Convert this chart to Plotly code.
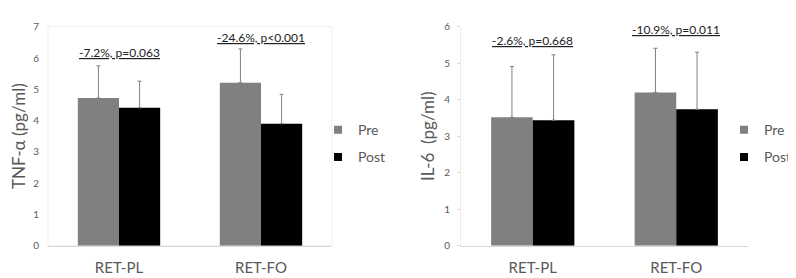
import plotly.graph_objects as go

categories = ["RET-PL", "RET-FO"]

tnf_pre = [4.72, 5.21]
tnf_pre_sd = [1.03, 1.08]
tnf_post = [4.41, 3.90]
tnf_post_sd = [0.85, 0.94]

il6_pre = [3.52, 4.20]
il6_pre_sd = [1.39, 1.21]
il6_post = [3.44, 3.74]
il6_post_sd = [1.79, 1.56]

tnf_labels = ["-7.2%, p=0.063", "-24.6%, p<0.001"]
tnf_label_y = [6.18, 6.65]
il6_labels = ["-2.6%, p=0.668", "-10.9%, p=0.011"]
il6_label_y = [5.62, 5.93]

PRE_C = "#808080"
POST_C = "#000000"
ERR_C = "#808080"
FONT = "Lato"
TXT = "#595959"

W, H = 796, 278


def err(vals):
    return dict(type="data", array=vals, arrayminus=[0] * len(vals), symmetric=False,
                color=ERR_C, thickness=1, width=2)


fig = go.Figure()
for xa, ya, pre, pre_sd, post, post_sd in [
    ("x", "y", tnf_pre, tnf_pre_sd, tnf_post, tnf_post_sd),
    ("x2", "y2", il6_pre, il6_pre_sd, il6_post, il6_post_sd),
]:
    fig.add_trace(go.Bar(x=categories, y=pre, name="Pre", marker_color=PRE_C, marker_line_width=0,
                         error_y=err(pre_sd), xaxis=xa, yaxis=ya, showlegend=False))
    fig.add_trace(go.Bar(x=categories, y=post, name="Post", marker_color=POST_C, marker_line_width=0,
                         error_y=err(post_sd), xaxis=xa, yaxis=ya, showlegend=False))

# legend entries
for lg, xa, ya in [("legend", "x", "y"), ("legend2", "x2", "y2")]:
    for nm, c in [("Pre", PRE_C), ("Post", POST_C)]:
        fig.add_trace(go.Scatter(x=[None], y=[None], mode="markers", name=nm,
                                 marker=dict(symbol="square", size=8, color=c),
                                 xaxis=xa, yaxis=ya, legend=lg, legendgroup=lg + nm,
                                 showlegend=True))

ybot = 1 - 242 / H
ytop = 1 - 12.3 / H

axis_common = dict(showgrid=False, zeroline=False, tickfont=dict(family=FONT, size=10, color=TXT))

fig.update_layout(
    width=W, height=H, autosize=False,
    margin=dict(l=0, r=0, t=0, b=0),
    paper_bgcolor="white", plot_bgcolor="white",
    barmode="group", bargap=0.42, bargroupgap=0,
    font=dict(family=FONT, color=TXT),
    xaxis=dict(domain=[40 / W, 324 / W], anchor="y", showline=True, linecolor="#d9d9d9", linewidth=1,
               ticks="", showgrid=False, tickfont=dict(family=FONT, size=15, color=TXT), ticklabelstandoff=8),
    yaxis=dict(domain=[ybot, ytop], anchor="x", range=[0, 7], dtick=1, ticks="", showline=False,
               title=dict(text="TNF-α (pg/ml)", font=dict(family=FONT, size=17, color=TXT), standoff=5),
               ticklabelstandoff=8, **axis_common),
    xaxis2=dict(domain=[453 / W, 740 / W], anchor="y2", showline=True, linecolor="#d9d9d9", linewidth=1,
                ticks="", showgrid=False, tickfont=dict(family=FONT, size=15, color=TXT), ticklabelstandoff=8),
    yaxis2=dict(domain=[ybot, ytop], anchor="x2", range=[0, 6], dtick=1, ticks="outside", ticklen=3,
                tickcolor="#d9d9d9", showline=True, linecolor="#ececec", linewidth=1,
                title=dict(text="IL-6  (pg/ml)", font=dict(family=FONT, size=17, color=TXT), standoff=5),
                ticklabelstandoff=5, **axis_common),
    legend=dict(x=310 / W, y=1 - 104 / H, xanchor="left", yanchor="top", tracegroupgap=6,
                font=dict(family=FONT, size=14, color=TXT), bgcolor="rgba(0,0,0,0)"),
    legend2=dict(x=716 / W, y=1 - 104 / H, xanchor="left", yanchor="top", tracegroupgap=6,
                 font=dict(family=FONT, size=14, color=TXT), bgcolor="rgba(0,0,0,0)"),
    shapes=[dict(type="rect", xref="x domain", yref="y domain", x0=0, x1=1, y0=0, y1=1,
                 line=dict(color="#efefef", width=1), layer="below")],
)

annots = []
for xa, ya, labels, ys in [("x", "y", tnf_labels, tnf_label_y), ("x2", "y2", il6_labels, il6_label_y)]:
    for cat, lab, yv in zip(categories, labels, ys):
        annots.append(dict(x=cat, y=yv, xref=xa, yref=ya, text="<u>" + lab + "</u>", showarrow=False,
                           font=dict(family=FONT, size=12, color="#222222")))
fig.update_layout(annotations=annots)

fig.write_html("out.html")
